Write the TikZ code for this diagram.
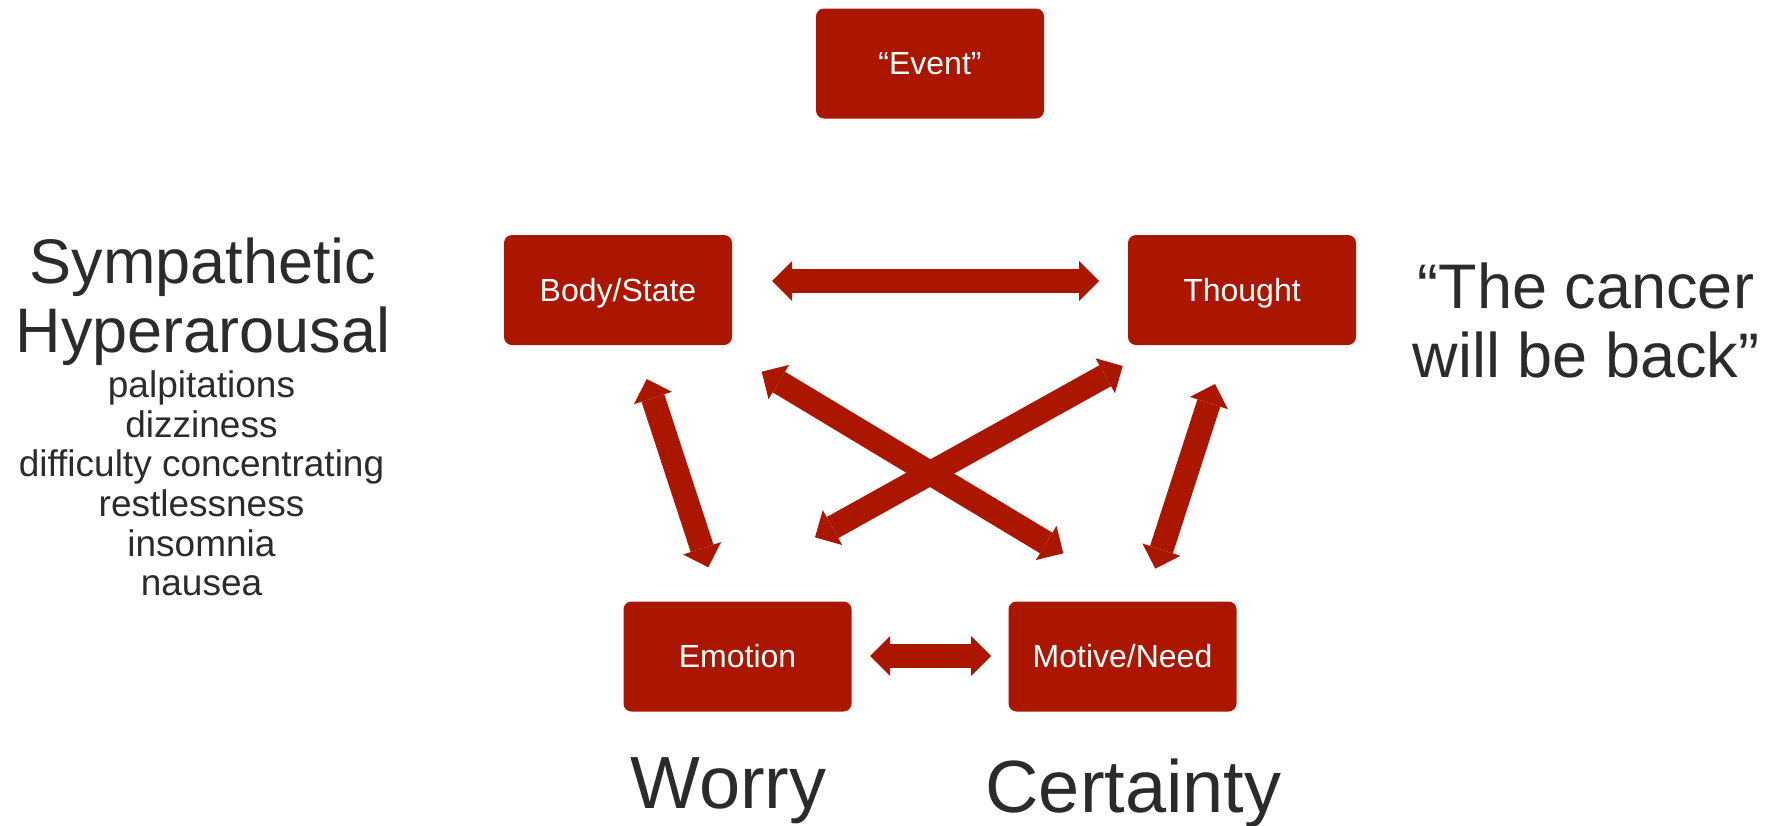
\documentclass[tikz,border=0pt]{standalone}
\usepackage{fontspec}
\setmainfont{Liberation Sans}
\usetikzlibrary{arrows.meta}
\definecolor{boxred}{RGB}{170,22,0}
\definecolor{txtgray}{RGB}{43,43,43}
\tikzset{
  bigtip/.tip={Triangle[length=20pt,width=40pt,line width=0pt]},
  box/.style={rounded corners=8pt, fill=boxred, draw=none, minimum width=228pt,
    minimum height=110pt, inner sep=0pt, text=white, text height=26pt, text depth=4pt,
    font=\fontsize{32}{38}\selectfont},
  link/.style={draw=boxred, line width=24pt, bigtip-bigtip},
  bigtext/.style={font=\fontsize{63}{69}\selectfont, text=txtgray, inner sep=0pt, align=center},
  smalltext/.style={font=\fontsize{37}{39.6}\selectfont, text=txtgray, inner sep=0pt, align=center},
  hugetext/.style={font=\fontsize{74}{80}\selectfont, text=txtgray, inner sep=0pt, anchor=base}
}
\begin{document}
\begin{tikzpicture}[x=1pt,y=-1pt]
\useasboundingbox (0,0) rectangle (1785,825);

% boxes
\node[box] (event)   at (930,63.5)   {“Event”};
\node[box] (body)    at (618,290)    {Body/State};
\node[box] (thought) at (1242,290)   {Thought};
\node[box] (emotion) at (737.5,656.5) {Emotion};
\node[box] (motive)  at (1122.5,656.5) {Motive/Need};

% arrow end points
\coordinate (bt1) at (772,281);     \coordinate (bt2) at (1099,281);
\coordinate (em1) at (870,656);     \coordinate (em2) at (991,656);
\coordinate (be1) at (646.7,379);   \coordinate (be2) at (708.3,567.3);
\coordinate (bm1) at (761.7,371.7); \coordinate (bm2) at (1063.3,553.3);
\coordinate (te1) at (1122.7,366);  \coordinate (te2) at (815,537.3);
\coordinate (tm1) at (1215,384);    \coordinate (tm2) at (1155.3,568.7);

\draw[link] (bt1) -- (bt2);
\draw[link] (em1) -- (em2);
\draw[link] (be1) -- (be2);
\draw[link] (bm1) -- (bm2);
\draw[link] (te1) -- (te2);
\draw[link] (tm1) -- (tm2);

% texts
\node[bigtext] (symp) at (203,301.5) {Sympathetic\\Hyperarousal};
\node[smalltext] (symptoms) at (201.5,483.5) {palpitations\\dizziness\\difficulty concentrating\\restlessness\\insomnia\\nausea};
\node[bigtext] (quote) at (1586,320) {“The cancer\\will be back”};
\node[hugetext] (worry) at (728.5,808) {Worry};
\node[hugetext] (certainty) at (1133.5,812) {Certainty};
\end{tikzpicture}
\end{document}
